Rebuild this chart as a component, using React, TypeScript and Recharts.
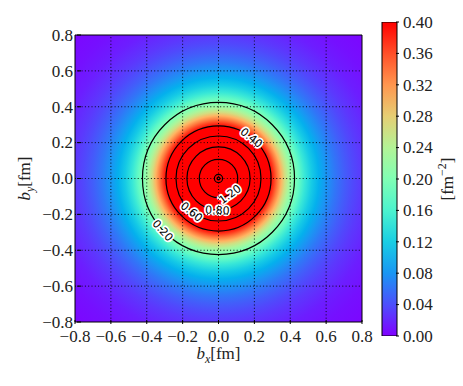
import React from 'react';
import {Bar, BarChart, ComposedChart, ReferenceArea, ReferenceLine, XAxis, YAxis} from 'recharts';

const AXIS_TICKS = [-0.8, -0.6, -0.4, -0.2, 0, 0.2, 0.4, 0.6, 0.8];
const GRID_TICKS = [-0.6, -0.4, -0.2, 0, 0.2, 0.4, 0.6];
const CBAR_TICKS = [0, 0.04, 0.08, 0.12, 0.16, 0.2, 0.24, 0.28, 0.32, 0.36, 0.4];

// radial density profile: b [fm] -> value [fm^-2]
const PROFILE_R = [0, 0.29, 0.31, 0.33, 0.35, 0.37, 0.39, 0.41, 0.425, 0.45, 0.48, 0.52, 0.56, 0.6, 0.65, 0.7, 0.75, 0.8, 0.9, 1.0, 1.131];
const PROFILE_V = [0.4, 0.4, 0.37, 0.335, 0.3, 0.265, 0.235, 0.21, 0.2, 0.175, 0.145, 0.117, 0.097, 0.08, 0.062, 0.048, 0.037, 0.028, 0.015, 0.008, 0.003];

// contour levels and their radii
const CONTOUR_LEVELS = [0.2, 0.4, 0.6, 0.8, 1.2, 1.6, 2.0];
const CONTOUR_RADII = [0.424, 0.293, 0.237, 0.176, 0.107, 0.023, 0.008];
const LABEL_TEXT = ['0.20', '0.40', '0.60', '0.80', '1.20'];
const LABEL_ANGLES = [223, 51, 231, 268, 306];

const VMAX = 0.4;
const CBAR_DATA = [{name: 'scale', top: VMAX}];
const CORNER_R = 0.8 * Math.SQRT2;
const SERIF = '"Liberation Serif", "DejaVu Serif", serif';
const SANS = '"DejaVu Sans", sans-serif';
const FONT_SIZE = 17;

function rainbow(v: number): string {
    const t = Math.min(1, Math.max(0, v / VMAX));
    const r = Math.abs(2 * t - 0.5);
    const g = Math.sin(Math.PI * t);
    const b = Math.cos((Math.PI * t) / 2);
    const h = (c: number) => Math.round(Math.max(0, Math.min(1, c)) * 255).toString(16).padStart(2, '0');
    return `#${h(r)}${h(g)}${h(b)}`;
}

function fmtAxis(v: number): string {
    return (v < 0 ? '\u2212' : '') + Math.abs(v).toFixed(1);
}

function LeftTick(props: any) {
    const {x, y, payload} = props;
    const ax = x + 4;
    return (
        <g>
            <line x1={ax} x2={ax + 4} y1={y} y2={y} stroke="#000"/>
            <text x={x} y={y} dy="0.34em" textAnchor="end" fontFamily={SERIF} fontSize={FONT_SIZE} fill="#222">
                {fmtAxis(payload.value)}
            </text>
        </g>
    );
}

function RightTick(props: any) {
    const {x, y} = props;
    return <line x1={x - 4} x2={x} y1={y} y2={y} stroke="#000"/>;
}

function BottomTick(props: any) {
    const {x, y, payload} = props;
    return (
        <g>
            <line x1={x} x2={x} y1={y - 4} y2={y} stroke="#000"/>
            <text x={x} y={y + 18} textAnchor="middle" fontFamily={SERIF} fontSize={FONT_SIZE} fill="#222">
                {fmtAxis(payload.value)}
            </text>
        </g>
    );
}

function TopTick(props: any) {
    const {x, y} = props;
    return <line x1={x} x2={x} y1={y} y2={y + 4} stroke="#000"/>;
}

function CbarTick(props: any) {
    const {x, y, payload} = props;
    return (
        <g>
            <line x1={x - 3} x2={x} y1={y} y2={y} stroke="#000"/>
            <text x={x + 4} y={y} dy="0.34em" textAnchor="start" fontFamily={SERIF} fontSize={FONT_SIZE} fill="#222">
                {payload.value.toFixed(2)}
            </text>
        </g>
    );
}

function XTitle(props: any) {
    const vb = props.viewBox;
    return (
        <text x={vb.x + vb.width / 2} y={vb.y + 37} textAnchor="middle" fontFamily={SERIF} fontSize={FONT_SIZE} fill="#222">
            <tspan fontStyle="italic">b</tspan>
            <tspan fontStyle="italic" fontSize={12} dy={4}>x</tspan>
            <tspan dy={-4}>[fm]</tspan>
        </text>
    );
}

function YTitle(props: any) {
    const vb = props.viewBox;
    const x = vb.x + 15;
    const y = vb.y + vb.height / 2;
    return (
        <text x={x} y={y} transform={`rotate(-90 ${x} ${y})`} textAnchor="middle" fontFamily={SERIF} fontSize={FONT_SIZE} fill="#222">
            <tspan fontStyle="italic">b</tspan>
            <tspan fontStyle="italic" fontSize={12} dy={4}>y</tspan>
            <tspan dy={-4}>[fm]</tspan>
        </text>
    );
}

function CbarTitle(props: any) {
    const vb = props.viewBox;
    const x = vb.x + 56;
    const y = vb.y + vb.height / 2;
    return (
        <text x={x} y={y} transform={`rotate(-90 ${x} ${y})`} textAnchor="middle" fontFamily={SERIF} fontSize={FONT_SIZE} fill="#222">
            <tspan>[fm</tspan>
            <tspan fontSize={12} dy={-7}>{'\u22122'}</tspan>
            <tspan dy={7}>]</tspan>
        </text>
    );
}

function ContourRing(props: any) {
    const {x, y, width, height} = props;
    return (
        <ellipse cx={x + width / 2} cy={y + height / 2} rx={width / 2} ry={height / 2}
                 fill="none" stroke="#000" strokeWidth={1.2}/>
    );
}

function contourLabel(text: string, angle: number) {
    return function ContourLabel(props: any) {
        const {x, y, width, height} = props;
        const rad = (angle * Math.PI) / 180;
        const px = x + width / 2 + (width / 2) * Math.cos(rad);
        const py = y + height / 2 - (height / 2) * Math.sin(rad);
        let rot = angle - 90;
        while (rot > 90) rot -= 180;
        while (rot <= -90) rot += 180;
        return (
            <text x={px} y={py} dy="0.36em" textAnchor="middle" transform={`rotate(${-rot} ${px} ${py})`}
                  fontFamily={SANS} fontSize={11} fill="#000" stroke="#fff" strokeWidth={3.5}
                  strokeLinejoin="round" paintOrder="stroke">
                {text}
            </text>
        );
    };
}

function ColorBarRect(props: any) {
    const {x, y, width, height} = props;
    return <rect x={x} y={y} width={width} height={height} fill="url(#cbar)" stroke="#000" strokeWidth={1}/>;
}

export default function App() {
    return (
        <div style={{position: 'absolute', left: 0, top: 0, width: 463, height: 386, background: '#fff'}}>
            <div style={{position: 'absolute', left: 0, top: 0}}>
                <ComposedChart width={463} height={386} margin={{top: 35, right: 101, bottom: 34, left: 15}}>
                    <defs>
                        <radialGradient id="heat" cx="0.5" cy="0.5" r={CORNER_R / 1.6}>
                            {PROFILE_R.map((r, i) => (
                                <stop key={`h-${i}`} offset={r / CORNER_R} stopColor={rainbow(PROFILE_V[i])}/>
                            ))}
                        </radialGradient>
                    </defs>
                    <XAxis type="number" dataKey="x" domain={[-0.8, 0.8]} ticks={AXIS_TICKS} interval={0}
                           allowDataOverflow axisLine={false} tickLine={false} tickSize={0} height={30}
                           tick={BottomTick} label={XTitle}/>
                    <XAxis xAxisId="top" orientation="top" type="number" domain={[-0.8, 0.8]} ticks={AXIS_TICKS}
                           interval={0} allowDataOverflow axisLine={false} tickLine={false} tickSize={0} height={0}
                           tick={TopTick}/>
                    <YAxis type="number" dataKey="y" domain={[-0.8, 0.8]} ticks={AXIS_TICKS} interval={0}
                           allowDataOverflow axisLine={false} tickLine={false} tickSize={0} width={60}
                           tick={LeftTick} label={YTitle}/>
                    <YAxis yAxisId="right" orientation="right" type="number" domain={[-0.8, 0.8]} ticks={AXIS_TICKS}
                           interval={0} allowDataOverflow axisLine={false} tickLine={false} tickSize={0} width={0}
                           tick={RightTick}/>
                    <ReferenceArea x1={-0.8} x2={0.8} y1={-0.8} y2={0.8} fill="url(#heat)" fillOpacity={1} stroke="none"/>
                    {GRID_TICKS.map((t) => (
                        <ReferenceLine key={`gx-${t}`} x={t} stroke="#000" strokeWidth={0.9} strokeDasharray="1 2.3"/>
                    ))}
                    {GRID_TICKS.map((t) => (
                        <ReferenceLine key={`gy-${t}`} y={t} stroke="#000" strokeWidth={0.9} strokeDasharray="1 2.3"/>
                    ))}
                    {CONTOUR_LEVELS.map((lvl, i) => (
                        <ReferenceArea key={`c-${lvl}`} x1={-CONTOUR_RADII[i]} x2={CONTOUR_RADII[i]}
                                       y1={-CONTOUR_RADII[i]} y2={CONTOUR_RADII[i]} shape={ContourRing}/>
                    ))}
                    {LABEL_TEXT.map((txt, i) => (
                        <ReferenceArea key={`l-${txt}`} x1={-CONTOUR_RADII[i]} x2={CONTOUR_RADII[i]}
                                       y1={-CONTOUR_RADII[i]} y2={CONTOUR_RADII[i]}
                                       shape={contourLabel(txt, LABEL_ANGLES[i])}/>
                    ))}
                    <ReferenceArea x1={-0.8} x2={0.8} y1={-0.8} y2={0.8} fill="none" fillOpacity={0}
                                   stroke="#000" strokeWidth={1}/>
                </ComposedChart>
            </div>
            <div style={{position: 'absolute', left: 0, top: 0}}>
                <BarChart width={463} height={386} data={CBAR_DATA} barCategoryGap={0}
                          margin={{top: 22, right: 6, bottom: 50, left: 382}}>
                    <defs>
                        <linearGradient id="cbar" x1="0" y1="1" x2="0" y2="0">
                            {CBAR_TICKS.map((v) => (
                                <stop key={`s-${v}`} offset={v / VMAX} stopColor={rainbow(v)}/>
                            ))}
                        </linearGradient>
                    </defs>
                    <XAxis dataKey="name" hide/>
                    <YAxis orientation="right" type="number" domain={[0, VMAX]} ticks={CBAR_TICKS} interval={0}
                           allowDataOverflow axisLine={false} tickLine={false} tickSize={0} width={60}
                           tick={CbarTick} label={CbarTitle}/>
                    <Bar dataKey="top" shape={ColorBarRect} isAnimationActive={false}/>
                </BarChart>
            </div>
        </div>
    );
}
